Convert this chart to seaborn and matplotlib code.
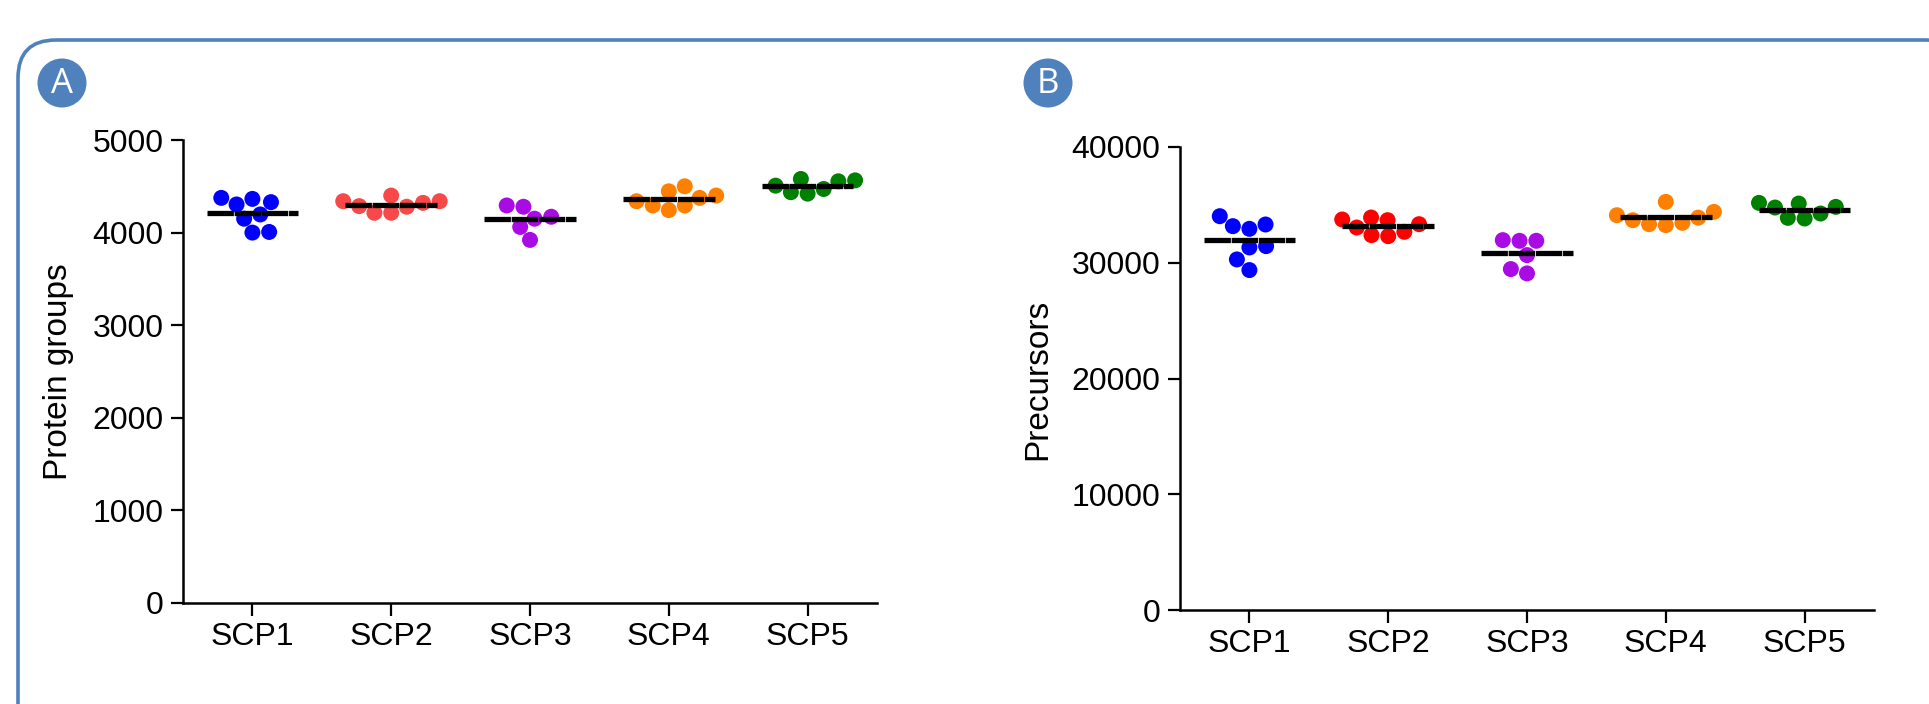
import numpy as np
import pandas as pd
import matplotlib
matplotlib.use("Agg")
import matplotlib.pyplot as plt
from matplotlib.patches import FancyBboxPatch, Circle
import seaborn as sns

# groups on the x axis
cats = ["SCP1", "SCP2", "SCP3", "SCP4", "SCP5"]

# panel A: protein groups per run
protein_scp1 = [4375, 4329, 4304, 4364, 4150, 4196, 4000, 4007]
protein_scp2 = [4286, 4321, 4339, 4339, 4400, 4279, 4214, 4214]
protein_scp3 = [4293, 4279, 4171, 4150, 4061, 3921]
protein_scp4 = [4446, 4500, 4400, 4375, 4339, 4293, 4293, 4243]
protein_scp5 = [4579, 4554, 4507, 4564, 4471, 4421, 4436]

# panel B: precursors per run
precursor_scp1 = [33161, 33305, 34023, 32931, 31437, 31322, 30287, 29368]
precursor_scp2 = [32672, 33333, 33736, 33678, 33908, 33046, 32299, 32385]
precursor_scp3 = [31897, 31897, 31954, 30661, 29080, 29454]
precursor_scp4 = [34397, 35259, 34109, 33448, 33900, 33247, 33678, 33333]
precursor_scp5 = [35172, 34828, 34770, 35115, 34253, 33822, 33879]

protein_ticks = [0, 1000, 2000, 3000, 4000, 5000]
precursor_ticks = [0, 10000, 20000, 30000, 40000]

colors_a = ["#0000FF", "#F94848", "#A80BE3", "#FF8000", "#008000"]
colors_b = ["#0000FF", "#FF0000", "#A80BE3", "#FF8000", "#008000"]


def to_long(groups):
    rows = []
    for c, vals in zip(cats, groups):
        for v in vals:
            rows.append((c, v))
    return pd.DataFrame(rows, columns=["group", "value"])


df_a = to_long([protein_scp1, protein_scp2, protein_scp3, protein_scp4, protein_scp5])
df_b = to_long([precursor_scp1, precursor_scp2, precursor_scp3, precursor_scp4, precursor_scp5])

sns.set_style("ticks")
plt.rcParams["font.family"] = ["Liberation Sans", "DejaVu Sans"]
plt.rcParams["text.color"] = "black"
plt.rcParams["axes.labelcolor"] = "black"
plt.rcParams["xtick.color"] = "black"
plt.rcParams["ytick.color"] = "black"

W, H = 1929, 704
fig = plt.figure(figsize=(W / 100, H / 100), dpi=100)

# background layer in pixel coords: rounded frame, panel badges, y titles
bg = fig.add_axes([0, 0, 1, 1], zorder=0)
bg.set_xlim(0, W)
bg.set_ylim(H, 0)
bg.axis("off")
bg.add_patch(FancyBboxPatch((18, 40), 1945, 740, boxstyle="round,pad=0,rounding_size=38",
                            fill=False, edgecolor="#4F81BD", linewidth=2.6))
for (cx, cy), lab in [((62, 83), "A"), ((1048, 83), "B")]:
    bg.add_patch(Circle((cx, cy), 24.5, color="#4F81BD", linewidth=0))
    bg.text(cx, cy + 1, lab, color="white", fontsize=25, ha="center", va="center",
            family=["Open Sans", "DejaVu Sans"])


def panel(rect, df, pal, ticks, ylabel, label_xy):
    ax = fig.add_axes(rect, zorder=1)
    ax.patch.set_alpha(0)
    ax.set_xlim(-0.5, 4.5)
    ax.set_ylim(ticks[0], ticks[-1])
    # lay the swarm out with a wider spacing, then shrink the dots
    sns.swarmplot(data=df, x="group", y="value", hue="group", palette=pal,
                  order=cats, size=14, linewidth=0, legend=False, ax=ax, zorder=2)
    for coll in ax.collections:
        coll.set_sizes([11.5 ** 2])
    means = df.groupby("group", sort=False)["value"].mean().reindex(cats).values
    for i, m in enumerate(means):
        ax.hlines(m, i - 0.33, i + 0.33, color="black", linewidth=3.8,
                  linestyle=(0, (5, 0.15)), zorder=3)
    ax.set_xlim(-0.5, 4.5)
    ax.set_ylim(ticks[0], ticks[-1])
    ax.set_yticks(ticks)
    ax.set_xlabel("")
    ax.set_ylabel("")
    bg.text(label_xy[0], label_xy[1], ylabel, fontsize=24, rotation=90,
            ha="center", va="center")
    ax.tick_params(axis="both", labelsize=23, length=9, width=1.6, color="black", pad=5)
    sns.despine(ax=ax)
    for s in ["left", "bottom"]:
        ax.spines[s].set_linewidth(1.8)
        ax.spines[s].set_color("black")
    return ax


panel([183 / W, (H - 603) / H, 694 / W, 463 / H], df_a, colors_a, protein_ticks,
      "Protein groups", (59, 372))
panel([1180 / W, (H - 610) / H, 694 / W, 463 / H], df_b, colors_b, precursor_ticks,
      "Precursors", (1038, 379))

fig.savefig("out.png", dpi=100)
